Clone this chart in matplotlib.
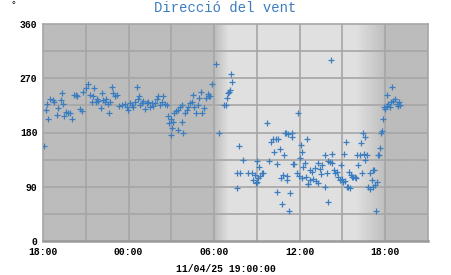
import numpy as np
import matplotlib
matplotlib.use('Agg')
import matplotlib.pyplot as plt

# Hores des de les 18:00 del 10/04/25 i direcció del vent (graus)
hores = [
    0.07, 0.19, 0.26, 0.37, 0.49, 0.68, 0.79, 0.96, 1.08, 1.24, 1.33, 1.43, 1.47, 1.61, 1.73, 1.89,
    2.01, 2.20, 2.31, 2.40, 2.59, 2.71, 2.83, 3.00, 3.18, 3.30, 3.41, 3.48, 3.58, 3.72, 3.76, 3.88,
    4.05, 4.12, 4.23, 4.35, 4.42, 4.58, 4.65, 4.70, 4.82, 4.93, 5.05, 5.21, 5.35, 5.51, 5.75, 5.91,
    5.98, 6.10, 6.22, 6.34, 6.45, 6.57, 6.64, 6.73, 6.80, 6.92, 7.04, 7.15, 7.27, 7.39, 7.50, 7.62,
    7.74, 7.85, 7.97, 8.09, 8.21, 8.32, 8.44, 8.56, 8.67, 8.79, 8.86, 8.95, 8.98, 9.02, 9.14, 9.20,
    9.32, 9.44, 9.48, 9.60, 9.72, 9.77, 9.84, 9.96, 10.08, 10.20, 10.31, 10.43, 10.55, 10.61, 10.73,
    10.85, 10.94, 11.08, 11.17, 11.31, 11.41, 11.55, 11.64, 11.71, 11.87, 12.13,
    12.36, 12.69, 12.83, 12.88, 13.00, 13.07, 13.11, 13.18, 13.27, 13.58, 13.63, 13.77, 13.82, 14.00,
    14.40, 14.64, 14.75, 14.87, 14.94, 14.99, 15.03, 15.10, 15.17, 15.22, 15.33, 15.45, 15.73, 15.87,
    15.99, 16.15, 16.20, 16.34, 16.38, 16.43, 16.50, 16.62, 16.67, 16.74, 16.85, 16.90, 16.97, 17.04,
    17.09, 17.13, 17.16, 17.27, 17.32, 17.44, 17.48, 17.55, 17.62, 17.79, 17.86, 17.95, 18.02, 18.09,
    18.14, 18.18, 18.25, 18.37, 18.42, 18.50, 18.55, 18.60, 18.72, 18.74, 18.88, 18.95, 19.07, 19.12,
    19.26, 19.30, 19.42, 19.49, 19.59, 19.78, 19.80, 19.90, 19.97, 20.01, 20.13, 20.20, 20.24, 20.29,
    20.43, 20.48, 20.60, 20.67, 20.83, 20.90, 20.99, 21.06, 21.13, 21.18, 21.28, 21.30, 21.41, 21.46,
    21.53, 21.60, 21.67, 21.76, 21.88, 21.95, 22.04, 22.11, 22.23, 22.28, 22.35, 22.42, 22.51, 22.56,
    22.58, 22.70, 22.81, 22.90, 22.93, 23.05, 23.12, 23.16, 23.21, 23.28, 23.35, 23.40, 23.51, 23.58,
    23.63, 23.68, 23.79, 23.86, 23.93, 23.98, 24.10, 24.14, 24.21, 24.33, 24.43, 24.45, 24.54, 24.68,
    24.80, 24.91, 24.98, 25.03,
]
graus = [
    158, 217, 227, 203, 236, 234, 231, 209, 220, 234, 246, 228, 207, 214, 213, 213,
    203, 242, 243, 241, 219, 216, 247, 254, 260, 243, 231, 241, 254, 230, 236, 232,
    221, 246, 234, 231, 236, 227, 213, 230, 256, 245, 241, 242, 224, 225, 227, 223,
    218, 229, 226, 223, 231, 256, 235, 240, 226, 229, 233, 219, 229, 231, 223, 229,
    224, 229, 235, 241, 226, 230, 240, 228, 226, 208, 196, 202, 176, 187, 198, 213,
    215, 184, 218, 223, 226, 197, 179, 213, 218, 223, 229, 231, 242, 222, 212,
    226, 237, 248, 213, 220, 237, 244, 240, 240, 261, 293,
    179, 225, 225, 237, 245, 247, 250, 277, 264, 88, 112, 157, 112, 134,
    112, 113, 101, 110, 97, 98, 132, 105, 123, 108, 112, 113, 195, 132,
    165, 170, 147, 169, 127, 82, 169, 153, 104, 62, 109, 143, 180, 179,
    102, 108, 178, 50, 80, 180, 172, 127, 127, 112, 212, 108, 138, 159,
    105, 148, 122, 129, 107, 170, 95, 94, 118, 101, 115, 103, 121, 100,
    129, 96, 119, 111, 126, 143, 90, 112, 132, 65, 131, 300, 144, 129,
    118, 112, 115, 107, 101, 126, 103, 98, 145, 100, 165, 90, 89, 115,
    88, 110, 107, 107, 106, 104, 143, 126, 143, 163, 113, 179, 144, 134,
    173, 143, 89, 112, 86, 102, 118, 90, 118, 93, 50, 98, 143, 143,
    155, 179, 183, 202, 222, 219, 224, 242, 228, 222, 231, 255, 233, 235,
    228, 224, 230, 226,
]

x_ticks = [0, 6, 12, 18, 24]
x_labels = ['18:00', '00:00', '06:00', '12:00', '18:00']
y_ticks = [0, 90, 180, 270, 360]

blau = '#3b7dbf'
nit, dia = 0.735, 0.875

fig = plt.figure(figsize=(4.51, 2.75), dpi=100)
ax = fig.add_axes([43 / 451, 34 / 275, 385 / 451, 217 / 275])

# fons: nit fosc, dia clar, amb degradat a sortida i posta de sol
xs = np.linspace(0, 27, 1081)
fons = np.full_like(xs, nit)
sortida = (xs >= 12.0) & (xs < 13.0)
fons[sortida] = nit + (dia - nit) * (xs[sortida] - 12.0)
fons[(xs >= 13.0) & (xs < 22.0)] = dia
posta = (xs >= 22.0) & (xs < 24.0)
fons[posta] = dia - (dia - nit - 0.01) * (xs[posta] - 22.0) / 2.0
ax.imshow(fons[np.newaxis, :], cmap='gray', vmin=0, vmax=1, aspect='auto',
          extent=[0, 27, 0, 360], zorder=0, interpolation='bilinear')

# graella cada 3 h i cada 45 graus
for gx in np.arange(3, 27, 3):
    ax.axvline(gx, color='#a6a6a6', linewidth=1.2, zorder=1)
for gy in np.arange(45, 360, 45):
    ax.axhline(gy, color='#a6a6a6', linewidth=1.2, zorder=1)

ax.plot(hores, graus, linestyle='none', marker='+', color=blau,
        markersize=5, markeredgewidth=0.9, zorder=3)

ax.set_xlim(0, 27)
ax.set_ylim(0, 360)
ax.set_xticks(x_ticks)
ax.set_xticklabels(x_labels)
ax.set_yticks(y_ticks)
ax.tick_params(which='both', length=0)
ax.tick_params(axis='x', pad=4)
ax.tick_params(axis='y', pad=4)
for lab in ax.get_xticklabels() + ax.get_yticklabels():
    lab.set_fontfamily('Liberation Mono')
    lab.set_fontweight('bold')
    lab.set_fontsize(7)
for side in ['top', 'left', 'right']:
    ax.spines[side].set_color('#a6a6a6')
    ax.spines[side].set_linewidth(1.2)
ax.spines['bottom'].set_color('#999999')
ax.spines['bottom'].set_linewidth(1.8)

fig.text(0.5, 1 - 8 / 275, 'Direcció del vent', ha='center', va='center',
         family='Liberation Mono', fontsize=10, color=blau)
fig.text(13 / 451, 1 - 5 / 275, '°', ha='center', va='center',
         family='Liberation Mono', fontsize=7)
fig.text(0.5, 1 - 269 / 275, '11/04/25 19:00:00', ha='center', va='center',
         family='Liberation Mono', fontweight='bold', fontsize=7)

fig.savefig('out.png', dpi=100)
